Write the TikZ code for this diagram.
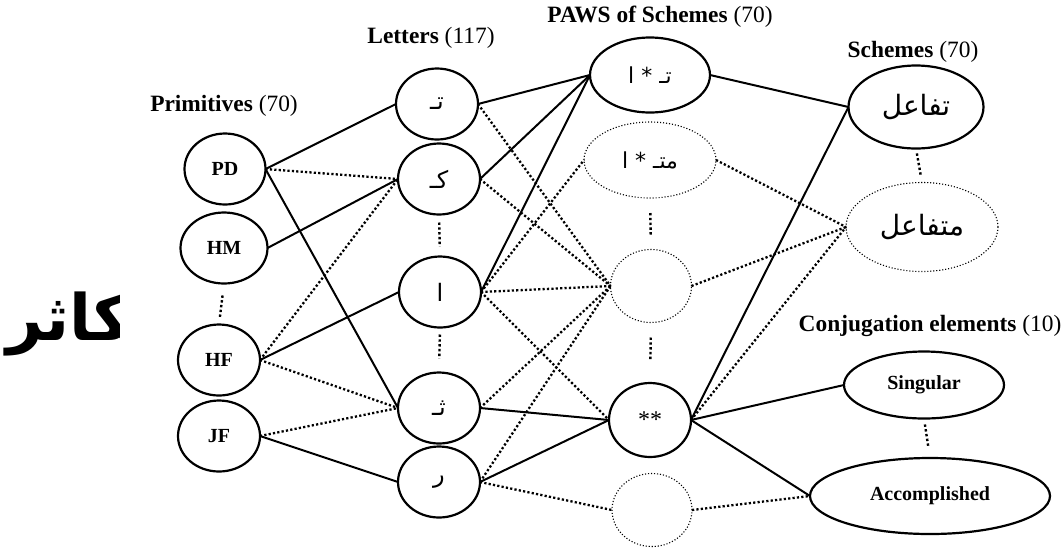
\documentclass[tikz,border=0pt]{standalone}
\usepackage{fontspec}
\setmainfont{Liberation Serif}
\newfontfamily\arabicfont[Script=Arabic]{DejaVu Sans}
\TeXXeTstate=1
\usetikzlibrary{shapes.geometric}
\begin{document}
\begin{tikzpicture}[x=1pt,y=-1pt,
  every node/.style={inner sep=0pt, outer sep=0pt},
  ell/.style={ellipse, draw, line width=2.2pt},
  dell/.style={ellipse, draw, line width=1.1pt, dash pattern=on 1.1pt off 1.9pt},
  ltr/.style={ell, minimum width=82pt, minimum height=71pt},
  prim/.style={ell, minimum width=82pt, minimum height=71pt, font=\fontsize{20}{24}\selectfont\bfseries},
  lab/.style={font=\fontsize{23.4}{28}\selectfont},
  ar/.style={font=\fontsize{24}{28}\selectfont\arabicfont},
  solidl/.style={line width=2pt},
  dotl/.style={line width=2.3pt, dash pattern=on 2.2pt off 2.2pt},
  sepl/.style={line width=2.4pt, dash pattern=on 2.4pt off 2.4pt}]
\useasboundingbox (0,0) rectangle (1063,550);
% column labels
\node[lab] (lprim) at (224,106) {\textbf{Primitives} (70)};
\node[lab] (llet) at (431,38) {\textbf{Letters} (117)};
\node[lab] (lpaws) at (660,17) {\textbf{PAWS of Schemes} (70)};
\node[lab] (lsch) at (913,52) {\textbf{Schemes} (70)};
\node[lab] (lconj) at (930,326) {\textbf{Conjugation elements} (10)};
% big clipped word
\begin{scope}
\clip (0,270) rectangle (119.5,370);
\node[anchor=base west, font=\fontsize{64}{72}\selectfont\arabicfont\bfseries] (big) at (6,340) {\beginR تكاثر\endR};
\end{scope}
% primitives
\node[prim, minimum width=81pt] (PD) at (225,169) {PD};
\node[prim, minimum width=87pt] (HM) at (224,248) {HM};
\node[prim] (HF) at (219,360) {HF};
\node[prim] (JF) at (219,436) {JF};
% letters
\node[ltr, ar] (t) at (437,104) {\beginR تـ\endR};
\node[ltr, ar] (k) at (439,179) {\beginR كـ\endR};
\node[ltr, ar] (a) at (440,292) {\beginR ا\endR};
\node[ltr, ar] (th) at (439,408) {\beginR ثـ\endR};
\node[ltr, ar] (r) at (439,482) {\beginR ر\endR};
% PAWS
\node[ell, minimum width=120pt, minimum height=75pt, font=\fontsize{22}{26}\selectfont\arabicfont] (p1) at (650,75) {\beginR تـ * ا\endR};
\node[dell, minimum width=132pt, minimum height=76pt, font=\fontsize{22}{26}\selectfont\arabicfont] (p2) at (650,160) {\beginR متـ * ا\endR};
\node[dell, minimum width=81pt, minimum height=73pt] (p3) at (651,286) {};
\node[ell, minimum width=82pt, minimum height=74pt, font=\fontsize{24}{28}\selectfont] (p4) at (650,420) {**};
\node[dell, minimum width=80pt, minimum height=73pt] (p5) at (652,510) {};
% schemes
\node[ell, minimum width=135pt, minimum height=83pt, font=\fontsize{28}{32}\selectfont\arabicfont] (s1) at (916,107) {\beginR تفاعل\endR};
\node[dell, minimum width=152pt, minimum height=89pt, font=\fontsize{28}{32}\selectfont\arabicfont] (s2) at (922,227) {\beginR متفاعل\endR};
% conjugation
\node[ell, minimum width=160pt, minimum height=67pt, font=\fontsize{20}{24}\selectfont\bfseries] (c1) at (924,385) {Singular};
\node[ell, minimum width=240pt, minimum height=76pt, font=\fontsize{20}{24}\selectfont\bfseries] (c2) at (930,496) {Accomplished};
% vertical ellipsis separators
\draw[sepl, shorten <=12pt, shorten >=6pt] (HM.south) -- (HF.north);
\draw[sepl, shorten <=8pt, shorten >=10pt] (k.south) -- (a.north);
\draw[sepl, shorten <=7pt, shorten >=14pt] (a.south) -- (th.north);
\draw[sepl, shorten <=15pt, shorten >=14pt] (p2.south) -- (p3.north);
\draw[sepl, shorten <=15pt, shorten >=23pt] (p3.south) -- (p4.north);
\draw[sepl, shorten <=5pt, shorten >=8pt] (s1.south) -- (s2.north);
\draw[sepl, shorten <=6pt, shorten >=10pt] (c1.south) -- (c2.north);
% primitives -> letters
\draw[solidl] (PD.east) -- (t.west);
\draw[dotl] (PD.east) -- (k.west);
\draw[solidl] (PD.east) -- (th.west);
\draw[solidl] (HM.east) -- (k.west);
\draw[dotl] (HF.east) -- (k.west);
\draw[solidl] (HF.east) -- (a.west);
\draw[dotl] (HF.east) -- (th.west);
\draw[dotl] (JF.east) -- (th.west);
\draw[solidl] (JF.east) -- (r.west);
% letters -> PAWS
\draw[solidl] (t.east) -- (p1.west);
\draw[solidl] (k.east) -- (p1.west);
\draw[solidl] (a.east) -- (p1.west);
\draw[dotl] (t.east) -- (p3.west);
\draw[dotl] (k.east) -- (p3.west);
\draw[dotl] (a.east) -- (p3.west);
\draw[dotl] (a.east) -- (p2.west);
\draw[dotl] (a.east) -- (p4.west);
\draw[dotl] (th.east) -- (p3.west);
\draw[solidl] (th.east) -- (p4.west);
\draw[dotl] (r.east) -- (p3.west);
\draw[solidl] (r.east) -- (p4.west);
\draw[dotl] (r.east) -- (p5.west);
% PAWS -> schemes / conjugation
\draw[solidl] (p1.east) -- (s1.west);
\draw[dotl] (p2.east) -- (s2.west);
\draw[dotl] (p3.east) -- (s2.west);
\draw[solidl] (p4.east) -- (s1.west);
\draw[dotl] (p4.east) -- (s2.west);
\draw[solidl] (p4.east) -- (c1.west);
\draw[solidl] (p4.east) -- (c2.west);
\draw[dotl] (p5.east) -- (c2.west);
\end{tikzpicture}
\end{document}
